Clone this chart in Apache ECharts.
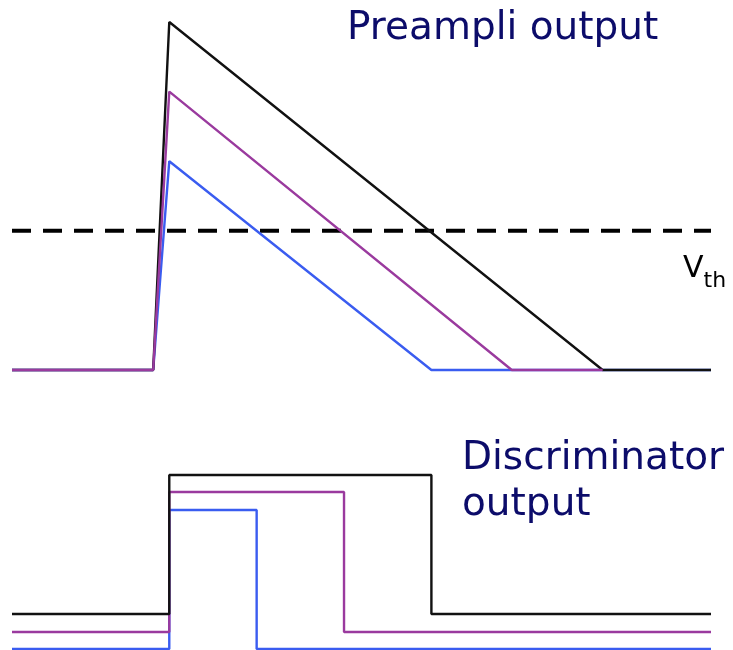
<!DOCTYPE html>
<html><head><meta charset="utf-8">
<script src="https://cdn.jsdelivr.net/npm/echarts@6/dist/echarts.min.js"></script>
<style>html,body{margin:0;padding:0;background:#fff}#c{width:733px;height:650px}</style>
</head><body><div id="c"></div>
<script>
// Preamplifier output (time, amplitude normalised to black peak)
const preBlack  = [[0,0],[20.2,0],[22.5,1.0],[84.5,0],[100,0]];
const prePurple = [[0,0],[20.2,0],[22.5,0.80],[71.5,0],[84.5,0]];
const preBlue   = [[0,0],[20.2,0],[22.5,0.60],[60,0],[100,0]];
const threshold = 0.40;
// Discriminator output (time, level)
const discBlack  = [[0,35],[22.5,35],[22.5,174],[60,174],[60,35],[100,35]];
const discPurple = [[0,17],[22.5,17],[22.5,157],[47.5,157],[47.5,17],[100,17]];
const discBlue   = [[0,0],[22.5,0],[22.5,139],[35,139],[35,0],[100,0]];

const C_BLACK = '#111111', C_PURPLE = '#9a3a9e', C_BLUE = '#3a5cf0', C_TEXT = '#0c0c6a';
const chart = echarts.init(document.getElementById('c'), null, {renderer:'canvas'});
const hiddenX = (i) => ({type:'value', gridIndex:i, min:0, max:100, show:false});
const line = (data, color, gi, z, extra) => Object.assign({
  type:'line', data, xAxisIndex:gi, yAxisIndex:gi, symbol:'none', clip:false, z,
  lineStyle:{color, width:2.4}, silent:true, animation:false
}, extra||{});
chart.setOption({
  animation:false,
  grid:[
    {left:12, right:22, top:22, bottom:280},
    {left:12, right:22, top:475, bottom:1}
  ],
  xAxis:[hiddenX(0), hiddenX(1)],
  yAxis:[
    {type:'value', gridIndex:0, min:0, max:1, show:false},
    {type:'value', gridIndex:1, min:0, max:174, show:false}
  ],
  series:[
    line([[0,threshold],[100,threshold]], '#000', 0, 1, {lineStyle:{color:'#000', width:4, type:[19,12]}}),
    line(preBlue, C_BLUE, 0, 2),
    line(preBlack, C_BLACK, 0, 3),
    line(prePurple, C_PURPLE, 0, 4),
    line(discBlue, C_BLUE, 1, 2),
    line(discPurple, C_PURPLE, 1, 3),
    line(discBlack, C_BLACK, 1, 4)
  ],
  graphic:[
    {type:'text', left:347, top:9, style:{text:'Preampli output', fill:C_TEXT, font:'39px "DejaVu Sans"'}},
    {type:'text', left:462, top:436, style:{text:'Discriminator\noutput', fill:C_TEXT, font:'39px "DejaVu Sans"', lineHeight:46}},
    {type:'text', left:683, top:254, style:{
      text:'{v|V}{s|th}', rich:{
        v:{font:'30px "DejaVu Sans"', fill:'#000', verticalAlign:'top', padding:[0,0,8,0]},
        s:{font:'22px "DejaVu Sans"', fill:'#000', verticalAlign:'bottom', padding:[10,0,0,0]}
      }}}
  ]
});
</script></body></html>
